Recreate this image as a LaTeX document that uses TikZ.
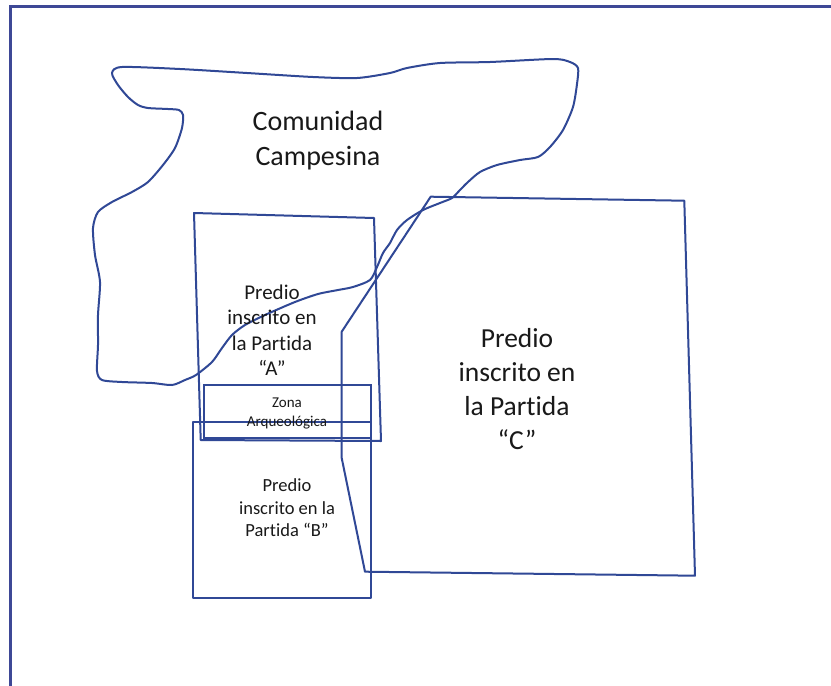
\documentclass[tikz,border=0pt]{standalone}
\usepackage{fontspec}
\setmainfont[Ligatures=NoCommon]{Carlito}
\definecolor{lineblue}{RGB}{48,72,150}
\definecolor{framecol}{RGB}{62,72,150}
\definecolor{txt}{RGB}{25,25,25}
\begin{document}
\begin{tikzpicture}[x=1pt,y=-1pt,
  shapeline/.style={draw=lineblue,line width=2pt,line join=round},
  thinline/.style={draw=lineblue,line width=1.2pt},
  lbl/.style={text=txt,align=center,inner sep=0pt}]
\useasboundingbox (0,0) rectangle (831,686);
\fill[white] (0,0) rectangle (831,686);
% frame (top and left edges visible)
\coordinate (ftl) at (10,6);
\coordinate (ftr) at (835,6);
\coordinate (fbl) at (10,690);
\draw[framecol,line width=3pt] (fbl) -- (ftl) -- (ftr);
% Comunidad Campesina outline
\draw[shapeline] plot[smooth cycle,tension=0.45] coordinates {
 (112,73) (122,67) (180,69) (247,73) (313,77) (357,78) (390,73) (407,68)
 (440,63) (490,62) (553,59) (570,62) (578,68) (577,84) (573,107) (563,130)
 (550,147) (538,157) (520,160) (497,165) (480,172) (468,182) (460,190)
 (452,198) (440,203) (423,210) (407,220) (397,230) (390,243) (383,253)
 (377,267) (370,280) (353,287) (338,290) (318,294) (295,302) (265,315)
 (245,325) (232,335) (222,348) (212,362) (196,375) (185,380) (172,385)
 (152,383) (122,382) (102,380) (97,371) (98,345) (98,315) (100,282)
 (95,255) (93,228) (98,212) (112,202) (132,192) (148,182) (163,165)
 (175,148) (182,128) (183,115) (179,110) (168,109) (148,108) (138,105)
 (128,97) (118,85)};
% Predio C polygon
\draw[shapeline] (430.7,196.7) -- (684.3,200.7) -- (695,575.7) -- (365,571.7)
  -- (341.7,458) -- (341.7,331.7) -- cycle;
% Predio A
\draw[shapeline] (194,213) -- (374,218) -- (381,441) -- (200.7,440) -- cycle;
% Zona Arqueologica
\draw[thinline] (204,385) rectangle (371,438);
% Predio B
\draw[shapeline] (192.7,422) rectangle (370.7,598);
% labels
\node[lbl,font=\fontsize{28}{35}\selectfont] (com) at (318,141) {Comunidad\\Campesina};
\node[lbl,font=\fontsize{21}{25.5}\selectfont] (pa) at (272,330) {Predio\\inscrito en\\la Partida\\“A”};
\node[lbl,font=\fontsize{27.5}{34}\selectfont] (pc) at (517,389) {Predio\\inscrito en\\la Partida\\“C”};
\node[lbl,font=\fontsize{18.5}{22.5}\selectfont] (pb) at (287,508) {Predio\\inscrito en la\\Partida “B”};
\node[lbl,font=\fontsize{15}{19}\selectfont] (za) at (287,413) {Zona\\Arqueológica};
\end{tikzpicture}
\end{document}
